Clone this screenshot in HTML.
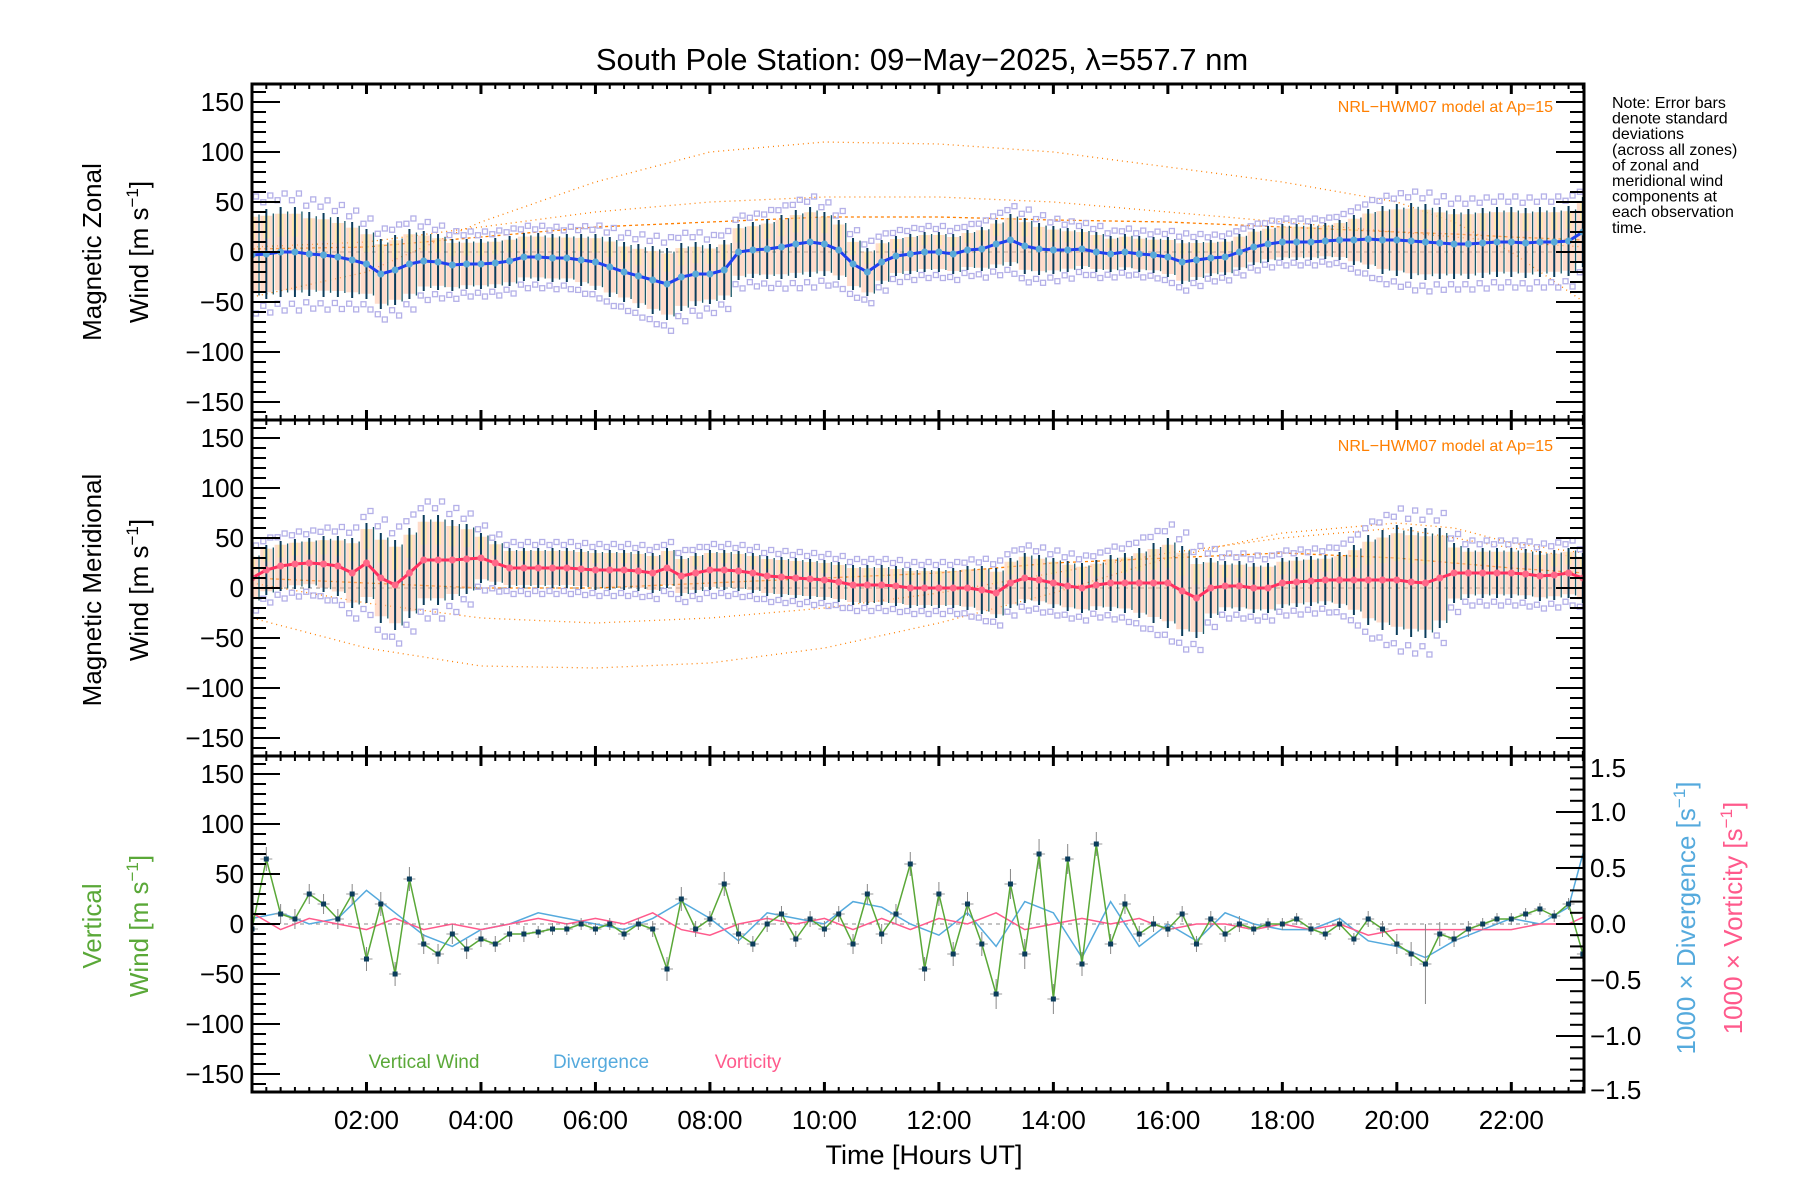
<!DOCTYPE html>
<html><head><meta charset="utf-8"><style>
html,body{margin:0;padding:0;background:#fff}
svg{display:block;font-family:"Liberation Sans",sans-serif}
</style></head><body>
<svg id="c" width="1800" height="1200" viewBox="0 0 1800 1200"></svg>
<script>
// ---------- DATA ----------
const qTimesCount = 94; // quarter-hour samples 0..23.25
const zonalMean = [-3,-2,0,0,-2,-3,-5,-8,-12,-22,-18,-12,-9,-10,-13,-12,-12,-11,-9,-5,-5,-6,-6,-8,-10,-15,-20,-24,-28,-32,-25,-22,-22,-18,0,2,3,5,8,10,8,2,-12,-20,-10,-4,-2,0,0,-2,2,3,8,12,6,3,2,2,3,0,-2,0,-2,-3,-5,-10,-8,-6,-5,0,5,8,10,10,10,11,12,12,13,12,12,11,10,9,8,8,9,10,10,9,10,10,11,20];
const zonalStd = [45,45,45,45,42,42,40,38,35,35,35,35,30,28,26,25,25,25,25,24,24,24,24,26,28,30,30,32,34,36,34,32,30,30,28,28,30,32,34,35,32,30,26,24,22,20,20,20,20,20,20,22,24,26,28,26,24,22,20,20,18,18,18,18,20,22,20,18,18,18,18,18,18,18,18,18,20,25,30,34,36,38,38,36,35,35,35,35,35,35,35,35,35,35];
const meridMean = [10,18,22,24,25,24,22,15,25,10,3,15,28,28,28,29,30,25,20,20,20,20,20,19,18,18,18,17,15,20,12,15,18,18,17,15,12,11,10,9,8,6,3,3,3,2,0,0,0,0,0,-2,-5,5,10,8,5,2,0,3,5,5,5,5,5,-3,-10,0,2,2,0,0,5,6,7,8,8,8,8,8,8,6,5,10,15,15,15,15,15,14,12,13,15,10];
const meridStd = [25,25,25,25,25,28,30,35,40,45,45,45,45,45,40,35,25,22,20,20,20,20,20,20,20,20,20,20,20,20,20,20,20,20,20,20,20,20,20,20,20,20,20,20,20,20,20,20,20,20,22,24,25,25,25,25,25,25,25,25,28,30,35,40,45,45,40,30,25,25,25,25,25,25,25,25,28,35,45,50,55,55,55,50,30,25,25,25,25,25,25,25,25,25];
const vertWind = [-5,65,10,5,30,20,5,30,-35,20,-50,45,-20,-30,-10,-25,-15,-20,-10,-10,-8,-5,-5,0,-5,0,-10,0,-5,-45,25,-5,5,40,-10,-20,0,10,-15,5,-5,10,-20,30,-10,10,60,-45,30,-30,20,-20,-70,40,-30,70,-75,65,-40,80,-20,20,-10,0,-5,10,-20,5,-10,0,-5,0,0,5,-5,-10,0,-15,5,-5,-20,-30,-40,-10,-15,-5,0,5,5,10,15,8,20,-30];
const vertErr = [10,12,10,10,10,10,10,10,12,12,12,12,10,10,10,10,8,8,8,8,6,6,6,6,6,6,6,6,8,12,12,8,8,12,10,8,8,8,8,8,8,8,10,10,10,10,12,12,12,12,12,12,15,15,15,15,15,15,12,12,10,10,8,8,8,8,8,8,8,8,6,6,6,6,6,6,6,6,8,8,10,12,40,12,8,8,6,6,6,6,6,6,6,8];
const divergence = [0.05,0.1,0.0,0.05,0.3,0.1,-0.1,-0.2,-0.05,0.0,0.1,0.05,0.0,-0.05,0.05,0.2,0.05,-0.15,0.1,0.05,0.0,0.2,0.15,0.0,-0.1,0.1,-0.2,0.2,0.1,-0.3,0.2,-0.2,0.0,-0.15,0.1,0.0,-0.05,-0.05,0.05,-0.15,-0.2,-0.3,-0.15,-0.05,0.05,0.0,0.15,1.1];
const vorticity = [0.1,-0.05,0.05,0,-0.05,0.05,-0.05,0.0,-0.05,0.0,0.05,0.0,0.05,0.0,0.1,-0.05,-0.1,0.0,0.05,0.0,0.05,-0.05,0.05,-0.05,0.05,0.0,0.1,-0.05,0.0,0.05,0.0,0.05,-0.05,0.0,0.0,-0.05,0.0,-0.05,0.0,-0.1,-0.05,-0.05,-0.05,-0.05,-0.05,0.0,0.0,0.12];
const hwmTimes = [0,2,4,6,8,10,12,14,16,18,20,21,22,23.27];
const hwmZonalA = [-45,-20,30,70,100,110,108,100,85,70,50,30,0,-50];
const hwmZonalB = [5,10,25,40,50,55,55,50,40,30,20,15,10,5];
const hwmZonalC = [3,5,15,25,30,35,35,32,30,25,20,18,15,12];
const hwmMeridA = [-30,-60,-78,-80,-75,-60,-35,-5,30,55,65,60,45,35];
const hwmMeridB = [5,-15,-30,-35,-30,-20,-5,15,35,50,60,50,40,30];
const hwmMeridC = [10,5,0,0,5,10,15,25,30,35,30,25,20,15];
const xTickLabels = ["02:00","04:00","06:00","08:00","10:00","12:00","14:00","16:00","18:00","20:00","22:00"];
const yTickLabels = ["\u2212150","\u2212100","\u221250","0","50","100","150"];
const rTickLabels = ["\u22121.5","\u22121.0","\u22120.5","0.0","0.5","1.0","1.5"];

// ---------- LAYOUT ----------
const NS="http://www.w3.org/2000/svg";
const svg=document.getElementById('c');
const L=252,R=1584,XMAX=23.27;
const panels=[{top:84,bot:420},{top:420,bot:756},{top:756,bot:1092}];
const X=h=>L+(R-L)*h/XMAX;
function Y(p,v){const P=panels[p];const mid=(P.top+P.bot)/2;return mid-v*(P.bot-P.top)/336;}
function YR(v){return Y(2,v*112);}
function mk(tag,attrs,parent){const e=document.createElementNS(NS,tag);for(const k in attrs)e.setAttribute(k,attrs[k]);(parent||svg).appendChild(e);return e;}
function txt(s,x,y,size,fill,anchor,rot,parent){const e=mk('text',{x:x,y:y,'font-size':size,fill:fill,'text-anchor':anchor||'middle'},parent);if(rot)e.setAttribute('transform','rotate(-90 '+x+' '+y+')');e.textContent=s;return e;}
const qt=i=>i*0.25, ht=i=>i*0.5;

function curve(p,vals,col,dash,name){
  const g=mk('g',{});
  let d='';hwmTimes.forEach((t,i)=>{d+=(i?'L':'M')+X(t).toFixed(1)+','+Y(p,vals[i]).toFixed(1);});
  mk('path',{d:d,fill:'none',stroke:col,'stroke-width':1.3,'stroke-dasharray':dash},g);
}
function windPanel(p,mean,std,lineCol,dotCol,name){
  const g=mk('g',{});
  mean.forEach((m,i)=>{const x=X(qt(i));
    const y1=Y(p,m+std[i]*0.85),y2=Y(p,m-std[i]*0.85);
    const z=mk('rect',{x:x-6,y:y1,width:12,height:Math.max(1,y2-y1),fill:'#ffc0a0',opacity:0.55},g);
    
    const z2=mk('rect',{x:x-3,y:y1,width:6,height:(y2-y1)*0.3,fill:'#fff0a0',opacity:0.6},g);
    
    [1.15,1.3].forEach((f,k)=>{[1,-1].forEach(s=>{
      const b=mk('rect',{x:x-2.5+(k?4:-3),y:Y(p,m+s*std[i]*f)-2.5,width:5,height:5,fill:'none',stroke:'#b4b0e8','stroke-width':1.3},g);
      });});
  });
  mean.forEach((m,i)=>{const x=X(qt(i));
    const l=mk('line',{x1:x,x2:x,y1:Y(p,m+std[i]),y2:Y(p,m-std[i]),stroke:'#0b3d5c','stroke-width':2},g);
    
    const l2=mk('line',{x1:x+7,x2:x+7,y1:Y(p,m+std[i]*0.9),y2:Y(p,m-std[i]*0.9),stroke:'#1a5a6a','stroke-width':1.3},g);
    
  });
  let d='';mean.forEach((m,i)=>{d+=(i?'L':'M')+X(qt(i)).toFixed(1)+','+Y(p,m).toFixed(1);});
  const pl=mk('path',{d:d,fill:'none',stroke:lineCol,'stroke-width':3},g);
  
  mean.forEach((m,i)=>{const c=mk('circle',{cx:X(qt(i)),cy:Y(p,m),r:3.5,fill:dotCol},g);
    });
}
[0,1,2].forEach(p=>{const z=mk('line',{x1:L,x2:R,y1:Y(p,0),y2:Y(p,0),stroke:'#888','stroke-width':1,'stroke-dasharray':'4,4'});
  });
curve(0,hwmZonalA,'#ff7f00','1,4','hwm-zonal-250km');
curve(0,hwmZonalB,'#ff7f00','1,4','hwm-zonal-120km');
curve(0,hwmZonalC,'#ff7f00','3,3','hwm-zonal-90km');
curve(1,hwmMeridA,'#ff7f00','1,4','hwm-merid-250km');
curve(1,hwmMeridB,'#ff7f00','1,4','hwm-merid-120km');
curve(1,hwmMeridC,'#ff7f00','3,3','hwm-merid-90km');
windPanel(0,zonalMean,zonalStd,'#2040f0','#5aaad8','zonal-wind-series');
windPanel(1,meridMean,meridStd,'#ff3060','#ff6888','meridional-wind-series');

(function(){
  const g=mk('g',{});
  let d='';divergence.forEach((v,i)=>{d+=(i?'L':'M')+X(ht(i)).toFixed(1)+','+YR(v).toFixed(1);});
  const dv=mk('path',{d:d,fill:'none',stroke:'#55aadd','stroke-width':1.5},g);
  
  d='';vorticity.forEach((v,i)=>{d+=(i?'L':'M')+X(ht(i)).toFixed(1)+','+YR(v).toFixed(1);});
  const vo=mk('path',{d:d,fill:'none',stroke:'#ff5a8c','stroke-width':1.5},g);
  
  vertWind.forEach((v,i)=>{const x=X(qt(i));
    const e=mk('line',{x1:x,x2:x,y1:Y(2,v+vertErr[i]),y2:Y(2,v-vertErr[i]),stroke:'#888','stroke-width':1},g);
    
    const e2=mk('line',{x1:x-6,x2:x+6,y1:Y(2,v),y2:Y(2,v),stroke:'#999','stroke-width':1},g);
    });
  d='';vertWind.forEach((v,i)=>{d+=(i?'L':'M')+X(qt(i)).toFixed(1)+','+Y(2,v).toFixed(1);});
  const vl=mk('path',{d:d,fill:'none',stroke:'#5aa838','stroke-width':1.5},g);
  
  vertWind.forEach((v,i)=>{const r=mk('rect',{x:X(qt(i))-2.5,y:Y(2,v)-2.5,width:5,height:5,fill:'#0b3d5c'},g);
    });
})();

[[0,0,1800,84],[0,1092,1800,108],[0,0,L,1200],[R,0,216,1200]].forEach(r=>{const m=mk('rect',{x:r[0],y:r[1],width:r[2],height:r[3],fill:'#fff'});
  });

panels.forEach((P,p)=>{
  const fr=mk('rect',{x:L,y:P.top,width:R-L,height:P.bot-P.top,fill:'none',stroke:'#000','stroke-width':3});
  
  for(let h=0.25;h<XMAX;h+=0.25){const maj=Math.abs(h/2-Math.round(h/2))<1e-6;const len=maj?10:5;
    mk('line',{x1:X(h),x2:X(h),y1:P.bot,y2:P.bot-len,stroke:'#000','stroke-width':maj?3:2});
    mk('line',{x1:X(h),x2:X(h),y1:P.top,y2:P.top+len,stroke:'#000','stroke-width':maj?3:2});}
  for(let v=-160;v<=160;v+=10){const maj=v%50===0;const len=maj?28:14;
    mk('line',{x1:L,x2:L+len,y1:Y(p,v),y2:Y(p,v),stroke:'#000','stroke-width':2});
    if(p<2)mk('line',{x1:R,x2:R-len,y1:Y(p,v),y2:Y(p,v),stroke:'#000','stroke-width':2});}
  yTickLabels.forEach((s,i)=>{const t=txt(s,L-8,Y(p,-150+50*i)+9,26,'#000','end');
    });
});
for(let k=-15;k<=15;k++){const v=k/10;const maj=k%5===0;const len=maj?28:14;
  mk('line',{x1:R,x2:R-len,y1:YR(v),y2:YR(v),stroke:'#000','stroke-width':2});}
rTickLabels.forEach((s,i)=>{const v=-1.5+0.5*i;let y=YR(v)+9;if(i===6)y+=12;if(i===0)y-=2;
  const t=txt(s,R+6,y,26,'#000','start');});
xTickLabels.forEach((s,i)=>{const t=txt(s,X(2+2*i),1129,26,'#000');});

let t;
t=txt('South Pole Station: 09\u2212May\u22122025, \u03bb=557.7 nm',922,70,31,'#000');
t=txt('Time [Hours UT]',924,1164,27,'#000');
function ytitle(l1,l2,cy,col,name){
  const a=txt(l1,101,cy,26,col,'middle',true);
  const b=mk('text',{x:148,y:cy,'font-size':26,fill:col,'text-anchor':'middle',transform:'rotate(-90 148 '+cy+')'});
  
  b.innerHTML=l2+' [m s<tspan dy="-10" font-size="17">\u22121</tspan><tspan dy="10">]</tspan>';
}
ytitle('Magnetic Zonal','Wind',252,'#000','zonal-y-title');
ytitle('Magnetic Meridional','Wind',590,'#000','meridional-y-title');
ytitle('Vertical','Wind',926,'#5aa838','vertical-y-title');
(function(){
  const a=mk('text',{x:1695,y:918,'font-size':26,fill:'#55aadd','text-anchor':'middle',transform:'rotate(-90 1695 918)'});
  
  a.innerHTML='1000 \u00d7 Divergence [s<tspan dy="-10" font-size="17">\u22121</tspan><tspan dy="10">]</tspan>';
  const b=mk('text',{x:1742,y:918,'font-size':26,fill:'#ff5a8c','text-anchor':'middle',transform:'rotate(-90 1742 918)'});
  
  b.innerHTML='1000 \u00d7 Vorticity [s<tspan dy="-10" font-size="17">\u22121</tspan><tspan dy="10">]</tspan>';
})();
[[112],[451]].forEach(r=>{const e=txt('NRL\u2212HWM07 model at Ap=15',1553,r[0],16,'#ff7f00','end');});
['Note: Error bars','denote standard','deviations','(across all zones)','of zonal and','meridional wind','components at','each observation','time.'].forEach((s,i)=>{
  const e=txt(s,1612,108+i*15.6,16,'#000','start');});
[['Vertical Wind',424,'#5aa838','legend-vertical-wind'],['Divergence',601,'#55aadd','legend-divergence'],['Vorticity',748,'#ff5a8c','legend-vorticity']].forEach(a=>{
  const e=txt(a[0],a[1],1068,19,a[2]);});
</script>
</body></html>
